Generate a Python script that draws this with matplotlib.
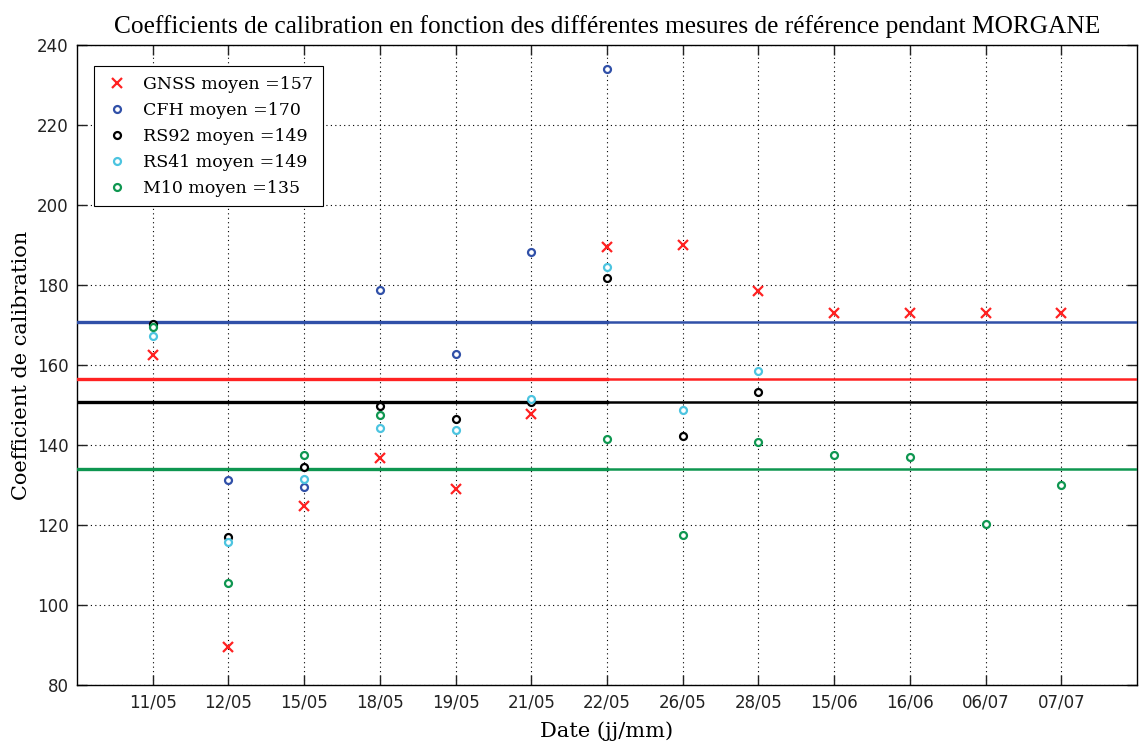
"""Calibration coefficients per reference measurement during MORGANE."""

import matplotlib

matplotlib.use("Agg")
import matplotlib.pyplot as plt
import numpy as np

DATES = ["11/05", "12/05", "15/05", "18/05", "19/05", "21/05", "22/05",
         "26/05", "28/05", "15/06", "16/06", "06/07", "07/07"]

NAN = np.nan
GNSS = [162.5, 89.4, 124.7, 136.8, 128.9, 147.7, 189.4,
        189.9, 178.6, 172.9, 172.9, 172.9, 172.9]
CFH = [170.0, 131.2, 129.5, 178.8, 162.7, 188.2, 234.0,
       NAN, NAN, NAN, NAN, NAN, NAN]
RS92 = [170.3, 116.9, 134.6, 149.7, 146.6, 150.8, 181.7,
        142.2, 153.3, NAN, NAN, NAN, NAN]
RS41 = [167.3, 115.8, 131.4, 144.2, 143.7, 151.6, 184.6,
        148.7, 158.4, NAN, NAN, NAN, NAN]
M10 = [169.4, 105.6, 137.4, 147.5, NAN, NAN, 141.4,
       117.4, 140.7, 137.4, 137.1, 120.3, 130.1]

# horizontal mean lines as drawn on the figure
MEAN_LINES = {"GNSS": 156.5, "CFH": 170.8, "RS92": 150.7, "M10": 134.1}
LEGEND_MEANS = {"GNSS": 157, "CFH": 170, "RS92": 149, "RS41": 149, "M10": 135}

COLORS = {"GNSS": "#ff2222", "CFH": "#3050a8", "RS92": "#000000",
          "RS41": "#4cc4e0", "M10": "#0e9650"}


def main():
    fig = plt.figure(figsize=(11.39, 7.42), dpi=100)
    ax = fig.add_axes([77 / 1139, 1 - 685 / 742, 1060 / 1139, 640 / 742])

    x = np.arange(1, len(DATES) + 1)
    series = [("GNSS", GNSS), ("CFH", CFH), ("RS92", RS92), ("RS41", RS41), ("M10", M10)]
    for name, values in series:
        label = f"{name} moyen ={LEGEND_MEANS[name]}"
        if name == "GNSS":
            ax.plot(x, values, "x", color=COLORS[name], ms=7, mew=1.6, label=label, zorder=4)
        else:
            ax.plot(x, values, "o", color=COLORS[name], mfc="white", ms=5, mew=1.6,
                    label=label, zorder=4)

    # mean lines: drawn in two pieces, a bit heavier up to 22/05
    split = 7
    for name in ["CFH", "GNSS", "RS92", "M10"]:
        y = MEAN_LINES[name]
        ax.plot([0, split], [y, y], "-", color=COLORS[name], lw=2.4, zorder=3)
        ax.plot([split, len(DATES) + 1], [y, y], "-", color=COLORS[name], lw=1.8, zorder=3)

    ax.set_xlim(0, len(DATES) + 1)
    ax.set_ylim(80, 240)
    ax.set_xticks(x)
    ax.set_xticklabels(DATES)
    ax.set_yticks(np.arange(80, 241, 20))
    ax.grid(True, linestyle=(0, (1, 3)), color="black", linewidth=0.8)
    ax.tick_params(direction="in", top=True, right=True, length=7, width=1,
                   labelsize=12, colors="#222222", pad=6)
    for lab in ax.get_xticklabels() + ax.get_yticklabels():
        lab.set_family("DejaVu Sans")
    for spine in ax.spines.values():
        spine.set_linewidth(1)

    ax.set_title("Coefficients de calibration en fonction des différentes mesures de référence pendant MORGANE",
                 family="Liberation Serif", fontsize=18.3, pad=9)
    ax.set_xlabel("Date (jj/mm)", family="DejaVu Serif", fontsize=15, labelpad=7)
    ax.set_ylabel("Coefficient de calibration", family="DejaVu Serif", fontsize=15, labelpad=4)

    leg = ax.legend(loc="upper left", bbox_to_anchor=(0.016, 0.967), borderaxespad=0,
                    prop={"family": "DejaVu Serif", "size": 12.5},
                    fancybox=False, edgecolor="black", framealpha=1, numpoints=1,
                    handlelength=1.6, handletextpad=0.7, borderpad=0.55, labelspacing=0.52)
    leg.get_frame().set_linewidth(0.8)

    fig.savefig("out.png", dpi=100)
    plt.close(fig)


if __name__ == "__main__":
    main()
